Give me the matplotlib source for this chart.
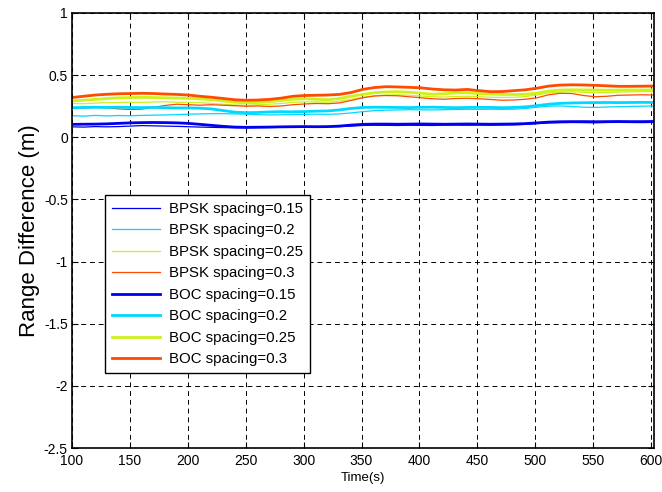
import numpy as np
import matplotlib
matplotlib.use("Agg")
import matplotlib.pyplot as plt

plt.rcParams['font.family'] = ['Liberation Sans', 'DejaVu Sans']

# Time samples (s)
time = np.linspace(100, 602, 51)

# Range difference (m) for BPSK signals
bpsk_015 = [0.084, 0.082, 0.086, 0.084, 0.086, 0.090, 0.094, 0.092, 0.090, 0.088,
            0.085, 0.082, 0.080, 0.078, 0.077, 0.076, 0.078, 0.079, 0.080, 0.080,
            0.082, 0.083, 0.084, 0.086, 0.090, 0.095, 0.097, 0.096, 0.095, 0.097,
            0.096, 0.095, 0.097, 0.098, 0.097, 0.098, 0.097, 0.099, 0.100, 0.104,
            0.110, 0.116, 0.118, 0.119, 0.118, 0.117, 0.119, 0.120, 0.119, 0.118, 0.120]
bpsk_020 = [0.174, 0.170, 0.176, 0.172, 0.175, 0.173, 0.176, 0.178, 0.180, 0.182,
            0.186, 0.188, 0.190, 0.190, 0.188, 0.186, 0.182, 0.180, 0.181, 0.183,
            0.184, 0.186, 0.185, 0.188, 0.196, 0.206, 0.214, 0.218, 0.220, 0.222,
            0.221, 0.220, 0.222, 0.224, 0.225, 0.224, 0.226, 0.225, 0.226, 0.232,
            0.242, 0.250, 0.252, 0.248, 0.242, 0.240, 0.244, 0.246, 0.248, 0.250, 0.252]
bpsk_025 = [0.272, 0.270, 0.275, 0.278, 0.280, 0.282, 0.280, 0.284, 0.286, 0.282,
            0.280, 0.278, 0.272, 0.266, 0.260, 0.258, 0.262, 0.266, 0.272, 0.280,
            0.286, 0.284, 0.282, 0.290, 0.306, 0.322, 0.334, 0.340, 0.342, 0.338,
            0.332, 0.326, 0.324, 0.328, 0.330, 0.326, 0.322, 0.320, 0.322, 0.328,
            0.340, 0.356, 0.364, 0.366, 0.362, 0.358, 0.360, 0.364, 0.366, 0.368, 0.368]
bpsk_030 = [0.240, 0.236, 0.242, 0.238, 0.228, 0.224, 0.226, 0.240, 0.256, 0.266,
            0.262, 0.258, 0.262, 0.258, 0.254, 0.250, 0.252, 0.248, 0.252, 0.262,
            0.268, 0.272, 0.270, 0.276, 0.296, 0.318, 0.332, 0.336, 0.334, 0.326,
            0.318, 0.310, 0.306, 0.312, 0.314, 0.310, 0.304, 0.298, 0.300, 0.306,
            0.318, 0.342, 0.354, 0.352, 0.336, 0.326, 0.330, 0.338, 0.340, 0.342, 0.340]

# Range difference (m) for BOC signals
boc_015 = [0.104, 0.105, 0.106, 0.108, 0.112, 0.116, 0.118, 0.119, 0.118, 0.116,
           0.112, 0.104, 0.096, 0.088, 0.082, 0.080, 0.081, 0.082, 0.084, 0.085,
           0.086, 0.085, 0.086, 0.090, 0.098, 0.104, 0.106, 0.106, 0.105, 0.106,
           0.107, 0.106, 0.105, 0.106, 0.107, 0.106, 0.105, 0.106, 0.107, 0.110,
           0.116, 0.122, 0.125, 0.126, 0.126, 0.125, 0.126, 0.127, 0.126, 0.126, 0.127]
boc_020 = [0.238, 0.240, 0.241, 0.240, 0.242, 0.240, 0.239, 0.240, 0.238, 0.236,
           0.236, 0.234, 0.228, 0.215, 0.202, 0.198, 0.200, 0.204, 0.206, 0.205,
           0.207, 0.210, 0.212, 0.220, 0.232, 0.240, 0.242, 0.241, 0.240, 0.239,
           0.241, 0.242, 0.240, 0.238, 0.240, 0.241, 0.240, 0.238, 0.240, 0.245,
           0.255, 0.266, 0.273, 0.276, 0.278, 0.279, 0.280, 0.279, 0.280, 0.281, 0.280]
boc_025 = [0.292, 0.298, 0.305, 0.312, 0.318, 0.320, 0.321, 0.320, 0.318, 0.316,
           0.314, 0.310, 0.302, 0.292, 0.282, 0.278, 0.280, 0.287, 0.296, 0.306,
           0.310, 0.306, 0.302, 0.312, 0.330, 0.345, 0.358, 0.365, 0.367, 0.362,
           0.355, 0.347, 0.350, 0.357, 0.358, 0.352, 0.348, 0.345, 0.344, 0.346,
           0.355, 0.372, 0.380, 0.382, 0.381, 0.380, 0.379, 0.380, 0.381, 0.380, 0.382]
boc_030 = [0.320, 0.330, 0.340, 0.346, 0.350, 0.352, 0.354, 0.352, 0.348, 0.345,
           0.340, 0.330, 0.322, 0.312, 0.302, 0.298, 0.300, 0.305, 0.315, 0.330,
           0.336, 0.338, 0.340, 0.345, 0.360, 0.385, 0.400, 0.407, 0.405, 0.402,
           0.398, 0.388, 0.382, 0.380, 0.385, 0.375, 0.367, 0.368, 0.375, 0.382,
           0.395, 0.412, 0.420, 0.422, 0.421, 0.418, 0.414, 0.410, 0.410, 0.411, 0.412]

spacings = ['0.15', '0.2', '0.25', '0.3']
colors = ['#0000f0', '#00d8ff', '#ccf21a', '#ff4a00']
bpsk_series = [bpsk_015, bpsk_020, bpsk_025, bpsk_030]
boc_series = [boc_015, boc_020, boc_025, boc_030]

x_ticks = np.arange(100, 601, 50)
y_ticks = np.arange(-2.5, 1.01, 0.5)

fig = plt.figure(figsize=(6.62, 4.92), dpi=100)
ax = fig.add_axes([0.1088, 0.0894, 0.879, 0.8842])

for s, c, vals in zip(spacings, colors, bpsk_series):
    ax.plot(time, vals, color=c, lw=0.9, label=f'BPSK spacing={s}')
for s, c, vals in zip(spacings, colors, boc_series):
    ax.plot(time, vals, color=c, lw=2.0, label=f'BOC spacing={s}')

ax.set_xlim(100, 602.5)
ax.set_ylim(-2.5, 1)
ax.set_xticks(x_ticks)
ax.set_yticks(y_ticks)
ax.set_xticklabels([f'{v:d}' for v in x_ticks])
ax.set_yticklabels([('%g' % v) for v in y_ticks])
ax.tick_params(direction='in', length=4, width=0.8, top=True, right=True,
               labelsize=10)
ax.tick_params(axis='x', pad=4)
ax.tick_params(axis='y', pad=3)
ax.grid(True, color='black', linestyle=(0, (5, 4)), linewidth=0.7)
for sp in ax.spines.values():
    sp.set_linewidth(1.2)
    sp.set_color('black')

ax.set_xlabel('Time(s)', fontsize=9.5, labelpad=3)
ax.set_ylabel('Range Difference (m)', fontsize=16, labelpad=3)

leg = ax.legend(loc='upper left', bbox_to_anchor=(0.0567, 0.5816),
                borderaxespad=0, fontsize=10.8, handlelength=3.2,
                handletextpad=0.6, labelspacing=0.5, borderpad=0.45,
                fancybox=False, framealpha=1, edgecolor='black')
leg.get_frame().set_linewidth(1.0)

fig.savefig('out.png', dpi=100)
